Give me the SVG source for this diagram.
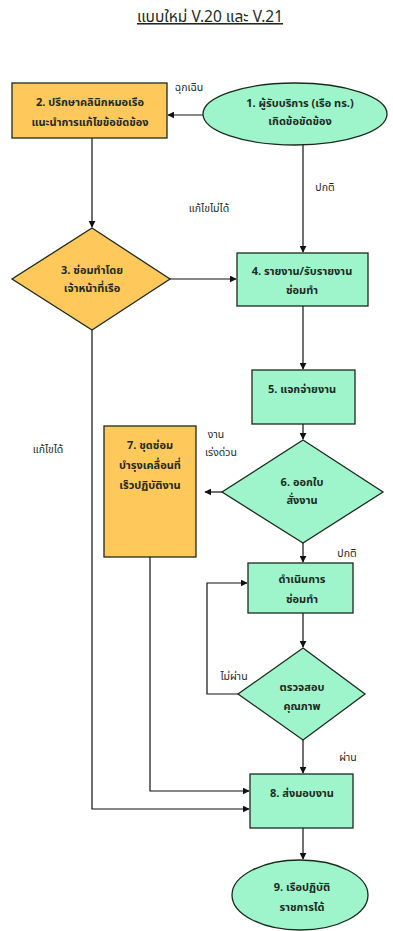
<svg xmlns="http://www.w3.org/2000/svg" width="393" height="931" viewBox="0 0 393 931">
<defs>
<marker id="arr" viewBox="0 0 10 10" refX="9" refY="5" markerWidth="7" markerHeight="7" orient="auto" markerUnits="userSpaceOnUse">
<path d="M0,0 L10,5 L0,10 z" fill="#111"/>
</marker>
</defs>
<style>
text{font-family:"Noto Sans Thai","Noto Sans","DejaVu Sans",sans-serif;fill:#1e2a1e;text-anchor:middle}
.n{font-size:11px;font-weight:bold}
.l{font-size:10.5px}
.g{fill:#9ff5cb;stroke:#1c2a1c;stroke-width:1.3}
.o{fill:#ffc85a;stroke:#1c2a1c;stroke-width:1.3}
.c{fill:none;stroke:#111;stroke-width:1.2}
</style>
<rect width="393" height="931" fill="#fff"/>
<text x="210" y="22" style="font-size:15.5px;text-decoration:underline">แบบใหม่ V.20 และ V.21</text>
<g id="connectors">
<path class="c" d="M203,115 H168" marker-end="url(#arr)"/>
<path class="c" d="M92,138 V227" marker-end="url(#arr)"/>
<path class="c" d="M303,145 V252" marker-end="url(#arr)"/>
<path class="c" d="M170,279 H236" marker-end="url(#arr)"/>
<path class="c" d="M303,306 V369" marker-end="url(#arr)"/>
<path class="c" d="M303,424 V439" marker-end="url(#arr)"/>
<path class="c" d="M222,492 H205" marker-end="url(#arr)"/>
<path class="c" d="M303,543 V562" marker-end="url(#arr)"/>
<path class="c" d="M303,613 V647" marker-end="url(#arr)"/>
<path class="c" d="M238,694 H207 V583 H247" marker-end="url(#arr)"/>
<path class="c" d="M303,740 V773" marker-end="url(#arr)"/>
<path class="c" d="M150,557 V791 H249" marker-end="url(#arr)"/>
<path class="c" d="M92,330 V809 H249" marker-end="url(#arr)"/>
<path class="c" d="M303,828 V859" marker-end="url(#arr)"/>
</g>
<g id="labels">
<text class="l" x="189" y="91">ฉุกเฉิน</text>
<text class="l" x="325" y="191">ปกติ</text>
<text class="l" x="209" y="212">แก้ไขไม่ได้</text>
<text class="l" x="48" y="453">แก้ไขได้</text>
<text class="l" x="216" y="438">งาน</text>
<text class="l" x="221" y="456">เร่งด่วน</text>
<text class="l" x="347" y="557">ปกติ</text>
<text class="l" x="234" y="680">ไม่ผ่าน</text>
<text class="l" x="348" y="761">ผ่าน</text>
</g>
<g id="n1">
<ellipse class="g" cx="295" cy="114" rx="92" ry="31"/>
<text class="n" x="300" y="107">1. ผู้รับบริการ (เรือ ทร.)</text>
<text class="n" x="300" y="125">เกิดข้อขัดข้อง</text>
</g>
<g id="n2">
<rect class="o" x="12" y="83" width="155" height="55"/>
<text class="n" x="90" y="106">2. ปรึกษาคลินิกหมอเรือ</text>
<text class="n" x="90" y="126">แนะนำการแก้ไขข้อขัดข้อง</text>
</g>
<g id="n3">
<polygon class="o" points="92,228 170,279 92,330 12,279"/>
<text class="n" x="92" y="274">3. ซ่อมทำโดย</text>
<text class="n" x="92" y="292">เจ้าหน้าที่เรือ</text>
</g>
<g id="n4">
<rect class="g" x="237" y="253" width="131" height="53"/>
<text class="n" x="302" y="275">4. รายงาน/รับรายงาน</text>
<text class="n" x="302" y="294">ซ่อมทำ</text>
</g>
<g id="n5">
<rect class="g" x="252" y="370" width="103" height="54"/>
<text class="n" x="302" y="393">5. แจกจ่ายงาน</text>
</g>
<g id="n6">
<polygon class="g" points="303,440 383,492 303,543 222,492"/>
<text class="n" x="302" y="486">6. ออกใบ</text>
<text class="n" x="302" y="504">สั่งงาน</text>
</g>
<g id="n7">
<rect class="o" x="104" y="426" width="92" height="131"/>
<text class="n" x="150" y="449">7. ชุดซ่อม</text>
<text class="n" x="150" y="469">บำรุงเคลื่อนที่</text>
<text class="n" x="150" y="489">เร็วปฏิบัติงาน</text>
</g>
<g id="n_repair">
<rect class="g" x="248" y="563" width="105" height="50"/>
<text class="n" x="302" y="583">ดำเนินการ</text>
<text class="n" x="302" y="603">ซ่อมทำ</text>
</g>
<g id="n_qc">
<polygon class="g" points="303,648 365,694 303,740 238,694"/>
<text class="n" x="302" y="691">ตรวจสอบ</text>
<text class="n" x="302" y="710">คุณภาพ</text>
</g>
<g id="n8">
<rect class="g" x="250" y="774" width="103" height="54"/>
<text class="n" x="302" y="797">8. ส่งมอบงาน</text>
</g>
<g id="n9">
<ellipse class="g" cx="300" cy="895" rx="68" ry="35"/>
<text class="n" x="302" y="891">9. เรือปฏิบัติ</text>
<text class="n" x="302" y="911">ราชการได้</text>
</g>
</svg>
